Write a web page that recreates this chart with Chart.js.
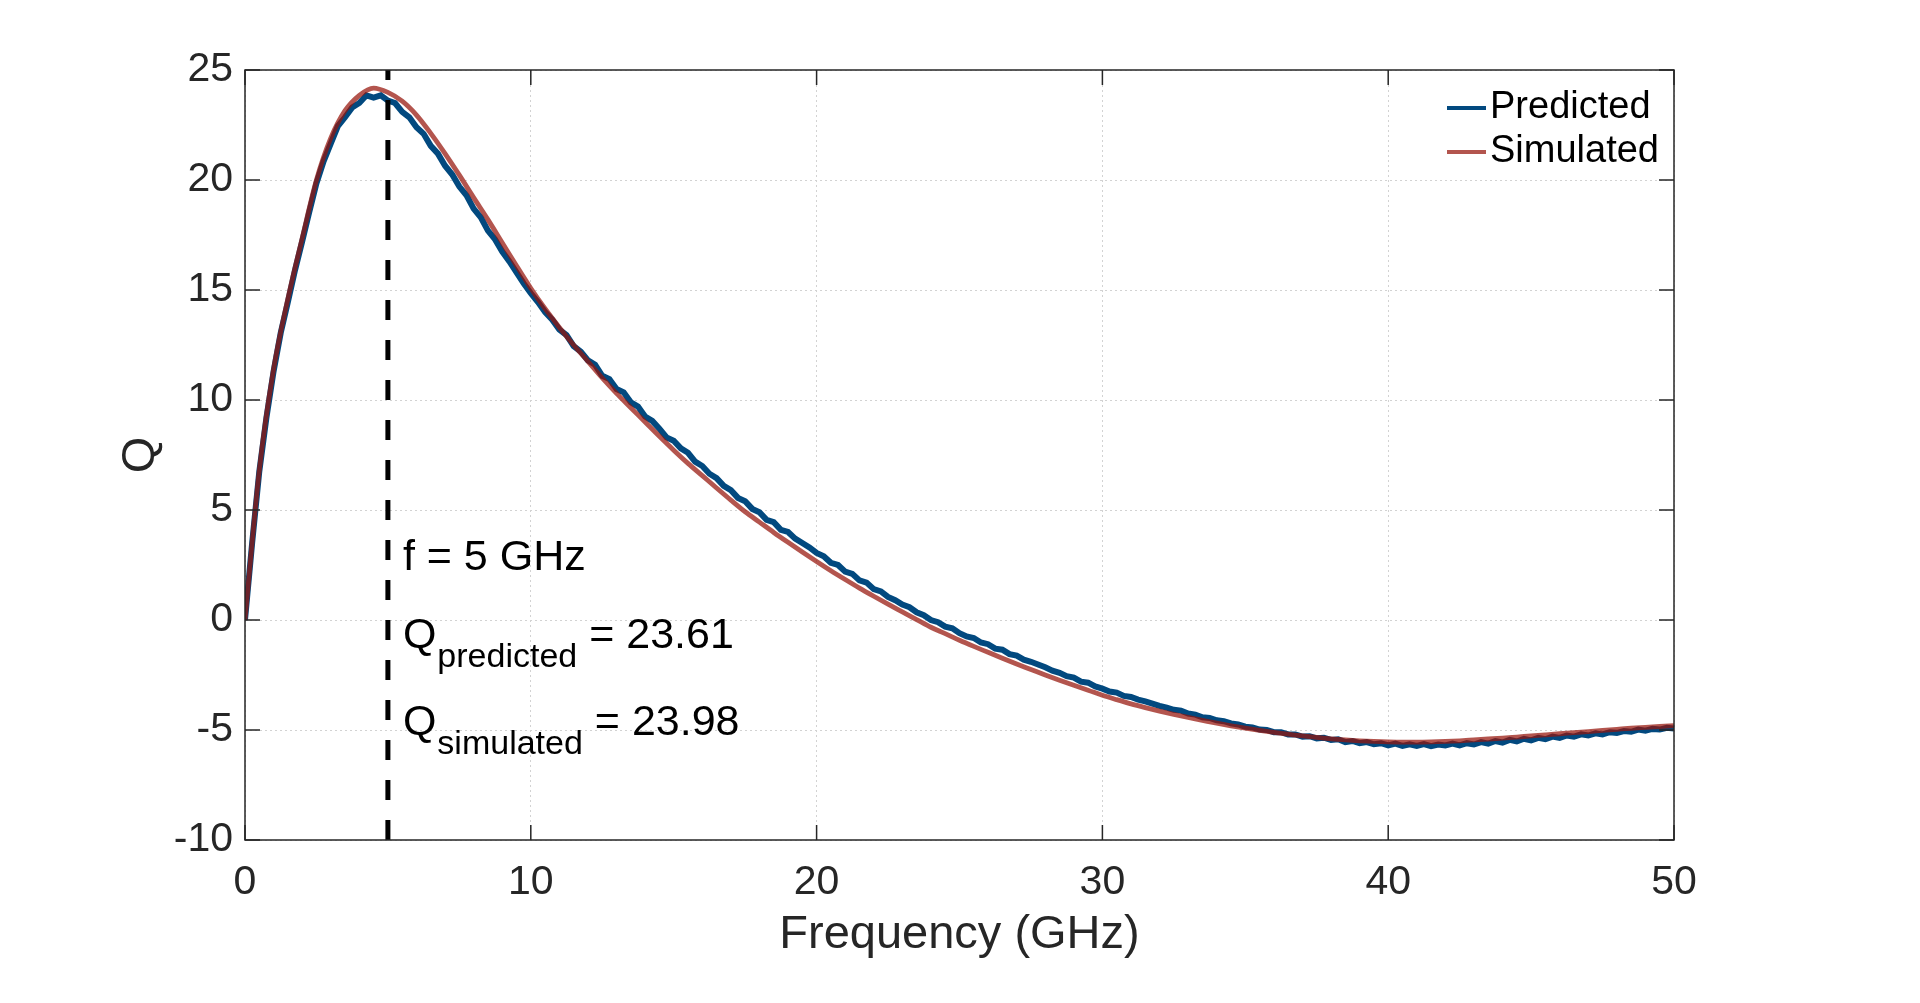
<!DOCTYPE html>
<html lang="en">
<head>
<meta charset="UTF-8">
<title>Q vs Frequency</title>
<script src="https://cdn.jsdelivr.net/npm/chart.js"></script>
<style>
  html, body { margin: 0; padding: 0; background: #fff; overflow: hidden; }
  #qChart { display: block; }
</style>
</head>
<body>
<canvas id="qChart" width="1920" height="1003"></canvas>
<script>
// Simulated Q, every 0.5 GHz
const simFreq = [
  0, 0.5, 1, 1.5, 2, 2.5, 3, 3.5, 4, 4.5,
  5, 5.5, 6, 6.5, 7, 7.5, 8, 8.5, 9, 9.5,
  10, 10.5, 11, 11.5, 12, 12.5, 13, 13.5, 14, 14.5,
  15, 15.5, 16, 16.5, 17, 17.5, 18, 18.5, 19, 19.5,
  20, 20.5, 21, 21.5, 22, 22.5, 23, 23.5, 24, 24.5,
  25, 25.5, 26, 26.5, 27, 27.5, 28, 28.5, 29, 29.5,
  30, 30.5, 31, 31.5, 32, 32.5, 33, 33.5, 34, 34.5,
  35, 35.5, 36, 36.5, 37, 37.5, 38, 38.5, 39, 39.5,
  40, 40.5, 41, 41.5, 42, 42.5, 43, 43.5, 44, 44.5,
  45, 45.5, 46, 46.5, 47, 47.5, 48, 48.5, 49, 49.5,
  50
];
const qSimulated = [
  0, 6.8, 11.4, 14.6, 17.35, 20.0, 21.9, 23.15, 23.85, 24.18,
  23.98, 23.58, 22.95, 22.12, 21.2, 20.22, 19.2, 18.2, 17.15, 16.1,
  15.08, 14.15, 13.3, 12.5, 11.75, 11.0, 10.3, 9.65, 9.0, 8.35,
  7.72, 7.12, 6.56, 6.0, 5.45, 4.92, 4.45, 3.98, 3.53, 3.09,
  2.66, 2.24, 1.84, 1.45, 1.08, 0.72, 0.37, 0.02, -0.33, -0.62,
  -0.92, -1.2, -1.47, -1.74, -2.0, -2.25, -2.5, -2.74, -2.97, -3.19,
  -3.42, -3.62, -3.81, -3.98, -4.14, -4.29, -4.43, -4.56, -4.69, -4.81,
  -4.92, -5.02, -5.11, -5.19, -5.27, -5.34, -5.40, -5.45, -5.49, -5.52,
  -5.54, -5.55, -5.55, -5.54, -5.52, -5.49, -5.45, -5.41, -5.37, -5.32,
  -5.27, -5.22, -5.17, -5.12, -5.07, -5.02, -4.97, -4.92, -4.88, -4.84,
  -4.8
];

// Predicted Q (noisy), every 0.25 GHz
const predFreq = [
  0, 0.25, 0.5, 0.75, 1, 1.25, 1.5, 1.75, 2, 2.25,
  2.5, 2.75, 3, 3.25, 3.5, 3.75, 4, 4.25, 4.5, 4.75,
  5, 5.25, 5.5, 5.75, 6, 6.25, 6.5, 6.75, 7, 7.25,
  7.5, 7.75, 8, 8.25, 8.5, 8.75, 9, 9.25, 9.5, 9.75,
  10, 10.25, 10.5, 10.75, 11, 11.25, 11.5, 11.75, 12, 12.25,
  12.5, 12.75, 13, 13.25, 13.5, 13.75, 14, 14.25, 14.5, 14.75,
  15, 15.25, 15.5, 15.75, 16, 16.25, 16.5, 16.75, 17, 17.25,
  17.5, 17.75, 18, 18.25, 18.5, 18.75, 19, 19.25, 19.5, 19.75,
  20, 20.25, 20.5, 20.75, 21, 21.25, 21.5, 21.75, 22, 22.25,
  22.5, 22.75, 23, 23.25, 23.5, 23.75, 24, 24.25, 24.5, 24.75,
  25, 25.25, 25.5, 25.75, 26, 26.25, 26.5, 26.75, 27, 27.25,
  27.5, 27.75, 28, 28.25, 28.5, 28.75, 29, 29.25, 29.5, 29.75,
  30, 30.25, 30.5, 30.75, 31, 31.25, 31.5, 31.75, 32, 32.25,
  32.5, 32.75, 33, 33.25, 33.5, 33.75, 34, 34.25, 34.5, 34.75,
  35, 35.25, 35.5, 35.75, 36, 36.25, 36.5, 36.75, 37, 37.25,
  37.5, 37.75, 38, 38.25, 38.5, 38.75, 39, 39.25, 39.5, 39.75,
  40, 40.25, 40.5, 40.75, 41, 41.25, 41.5, 41.75, 42, 42.25,
  42.5, 42.75, 43, 43.25, 43.5, 43.75, 44, 44.25, 44.5, 44.75,
  45, 45.25, 45.5, 45.75, 46, 46.25, 46.5, 46.75, 47, 47.25,
  47.5, 47.75, 48, 48.25, 48.5, 48.75, 49, 49.25, 49.5, 49.75,
  50
];
const qPredicted = [
  0.0, 3.5, 6.75, 9.2, 11.3, 13.05, 14.45, 15.9, 17.2, 18.55,
  19.85, 20.85, 21.65, 22.45, 22.85, 23.3, 23.5, 23.85, 23.75, 23.85,
  23.61, 23.5, 23.1, 22.85, 22.4, 22.1, 21.55, 21.2, 20.65, 20.25,
  19.7, 19.3, 18.7, 18.3, 17.7, 17.3, 16.75, 16.3, 15.8, 15.3,
  14.85, 14.45, 14.0, 13.65, 13.2, 12.95, 12.45, 12.2, 11.8, 11.6,
  11.1, 10.95, 10.5, 10.35, 9.9, 9.7, 9.25, 9.05, 8.7, 8.3,
  8.15, 7.8, 7.6, 7.2, 7.0, 6.65, 6.45, 6.1, 5.9, 5.55,
  5.4, 5.05, 4.9, 4.55, 4.45, 4.1, 4.0, 3.7, 3.5, 3.3,
  3.05, 2.9, 2.6, 2.5, 2.2, 2.1, 1.8, 1.7, 1.4, 1.3,
  1.05, 0.9, 0.7, 0.58, 0.35, 0.22, 0.0, -0.1, -0.3, -0.38,
  -0.6, -0.75, -0.82, -1.02, -1.1, -1.3, -1.35, -1.55, -1.62, -1.8,
  -1.9, -2.02, -2.15, -2.3, -2.4, -2.55, -2.62, -2.8, -2.85, -3.02,
  -3.12, -3.25, -3.3, -3.45, -3.5, -3.62, -3.7, -3.8, -3.9, -3.98,
  -4.08, -4.12, -4.25, -4.3, -4.42, -4.45, -4.56, -4.6, -4.7, -4.75,
  -4.85, -4.88, -4.98, -5.0, -5.1, -5.1, -5.2, -5.2, -5.3, -5.28,
  -5.38, -5.35, -5.45, -5.42, -5.55, -5.5, -5.6, -5.55, -5.65, -5.6,
  -5.7, -5.62, -5.72, -5.65, -5.72, -5.64, -5.73, -5.66, -5.7, -5.62,
  -5.7, -5.6, -5.66, -5.55, -5.62, -5.5, -5.57, -5.45, -5.52, -5.4,
  -5.47, -5.36, -5.42, -5.3, -5.36, -5.25, -5.3, -5.2, -5.25, -5.15,
  -5.2, -5.1, -5.13, -5.05, -5.08, -4.98, -5.03, -4.95, -4.98, -4.9,
  -4.93
];

// marker line at f = 5 GHz
const markerFreq = [5, 5];
const markerQ = [25, -10];

const xTicks = [0, 10, 20, 30, 40, 50];
const yTicks = [-10, -5, 0, 5, 10, 15, 20, 25];

const FONT = '"Liberation Sans", Arial, Helvetica, sans-serif';
const AXIS_COLOR = '#262626';
const BLUE = '#02497f';
const RED = 'rgba(150, 20, 10, 0.72)';

const toPoints = (xs, ys) => xs.map((x, i) => ({ x: x, y: ys[i] }));

// box with inward ticks on all four sides
const axesFrame = {
  id: 'axesFrame',
  afterDatasetsDraw(chart) {
    const { ctx, chartArea: a, scales: { x, y } } = chart;
    const tl = 15;
    ctx.save();
    ctx.strokeStyle = AXIS_COLOR;
    ctx.lineWidth = 1.5;
    ctx.strokeRect(a.left, a.top, a.right - a.left, a.bottom - a.top);
    ctx.beginPath();
    xTicks.forEach(v => {
      const px = x.getPixelForValue(v);
      ctx.moveTo(px, a.bottom); ctx.lineTo(px, a.bottom - tl);
      ctx.moveTo(px, a.top); ctx.lineTo(px, a.top + tl);
    });
    yTicks.forEach(v => {
      const py = y.getPixelForValue(v);
      ctx.moveTo(a.left, py); ctx.lineTo(a.left + tl, py);
      ctx.moveTo(a.right, py); ctx.lineTo(a.right - tl, py);
    });
    ctx.stroke();
    ctx.restore();
  }
};

// legend + text annotation
const overlays = {
  id: 'overlays',
  afterDraw(chart) {
    const { ctx, chartArea: a, scales: { x } } = chart;
    ctx.save();

    // legend (no box)
    const rows = [
      { label: 'Predicted', color: BLUE, y: a.top + 38 },
      { label: 'Simulated', color: RED, y: a.top + 82 }
    ];
    ctx.font = '38px ' + FONT;
    ctx.textBaseline = 'middle';
    ctx.textAlign = 'left';
    rows.forEach(r => {
      ctx.strokeStyle = r.color;
      ctx.lineWidth = 4;
      ctx.beginPath();
      ctx.moveTo(a.right - 227, r.y);
      ctx.lineTo(a.right - 188, r.y);
      ctx.stroke();
      ctx.fillStyle = '#000';
      ctx.fillText(r.label, a.right - 184, r.y);
    });

    // annotation next to the 5 GHz marker
    const tx = x.getPixelForValue(5) + 15;
    ctx.textBaseline = 'alphabetic';
    ctx.fillStyle = '#000';
    ctx.font = '43px ' + FONT;
    ctx.fillText('f = 5 GHz', tx, 570);

    const qLine = (sub, value, base) => {
      ctx.font = '43px ' + FONT;
      ctx.fillText('Q', tx, base);
      const qw = ctx.measureText('Q').width;
      ctx.font = '34px ' + FONT;
      ctx.fillText(sub, tx + qw + 1, base + 19);
      const sw = ctx.measureText(sub).width;
      ctx.font = '43px ' + FONT;
      ctx.fillText('= ' + value, tx + qw + sw + 13, base);
    };
    qLine('predicted', '23.61', 648);
    qLine('simulated', '23.98', 735);
    ctx.restore();
  }
};

const tickFont = { family: FONT, size: 41 };
const titleFont = { family: FONT, size: 47 };

new Chart(document.getElementById('qChart'), {
  type: 'line',
  data: {
    datasets: [
      {
        label: 'Predicted',
        data: toPoints(predFreq, qPredicted),
        borderColor: BLUE,
        borderWidth: 6,
        pointRadius: 0,
        tension: 0,
        order: 3
      },
      {
        label: 'Simulated',
        data: toPoints(simFreq, qSimulated),
        borderColor: RED,
        borderWidth: 4.8,
        pointRadius: 0,
        cubicInterpolationMode: 'monotone',
        order: 2
      },
      {
        label: 'f = 5 GHz',
        data: toPoints(markerFreq, markerQ),
        borderColor: '#000',
        borderWidth: 5,
        borderDash: [20, 20],
        borderDashOffset: 10,
        pointRadius: 0,
        order: 1
      }
    ]
  },
  options: {
    responsive: false,
    animation: false,
    devicePixelRatio: 1,
    layout: { padding: { left: 0, right: 246, top: 70, bottom: 0 } },
    plugins: {
      legend: { display: false },
      tooltip: { enabled: false }
    },
    scales: {
      x: {
        type: 'linear',
        min: 0,
        max: 50,
        afterBuildTicks: s => { s.ticks = xTicks.map(v => ({ value: v })); },
        afterFit: s => { s.height = 163; },
        ticks: { font: tickFont, color: AXIS_COLOR, padding: 18, maxRotation: 0, autoSkip: false },
        grid: { color: '#d2d2d2', lineWidth: 1, drawTicks: false },
        border: { display: false, dash: [2, 3] },
        title: {
          display: true,
          text: 'Frequency (GHz)',
          font: titleFont,
          color: AXIS_COLOR,
          padding: { top: 0, bottom: 40 }
        }
      },
      y: {
        type: 'linear',
        min: -10,
        max: 25,
        afterBuildTicks: s => { s.ticks = yTicks.map(v => ({ value: v })); },
        afterFit: s => { s.width = 245; },
        ticks: { font: tickFont, color: AXIS_COLOR, padding: 12, autoSkip: false },
        grid: { color: '#d2d2d2', lineWidth: 1, drawTicks: false },
        border: { display: false, dash: [2, 3] },
        title: {
          display: true,
          text: 'Q',
          font: titleFont,
          color: AXIS_COLOR,
          padding: { top: 113, bottom: 0 }
        }
      }
    }
  },
  plugins: [axesFrame, overlays]
});
</script>
</body>
</html>
